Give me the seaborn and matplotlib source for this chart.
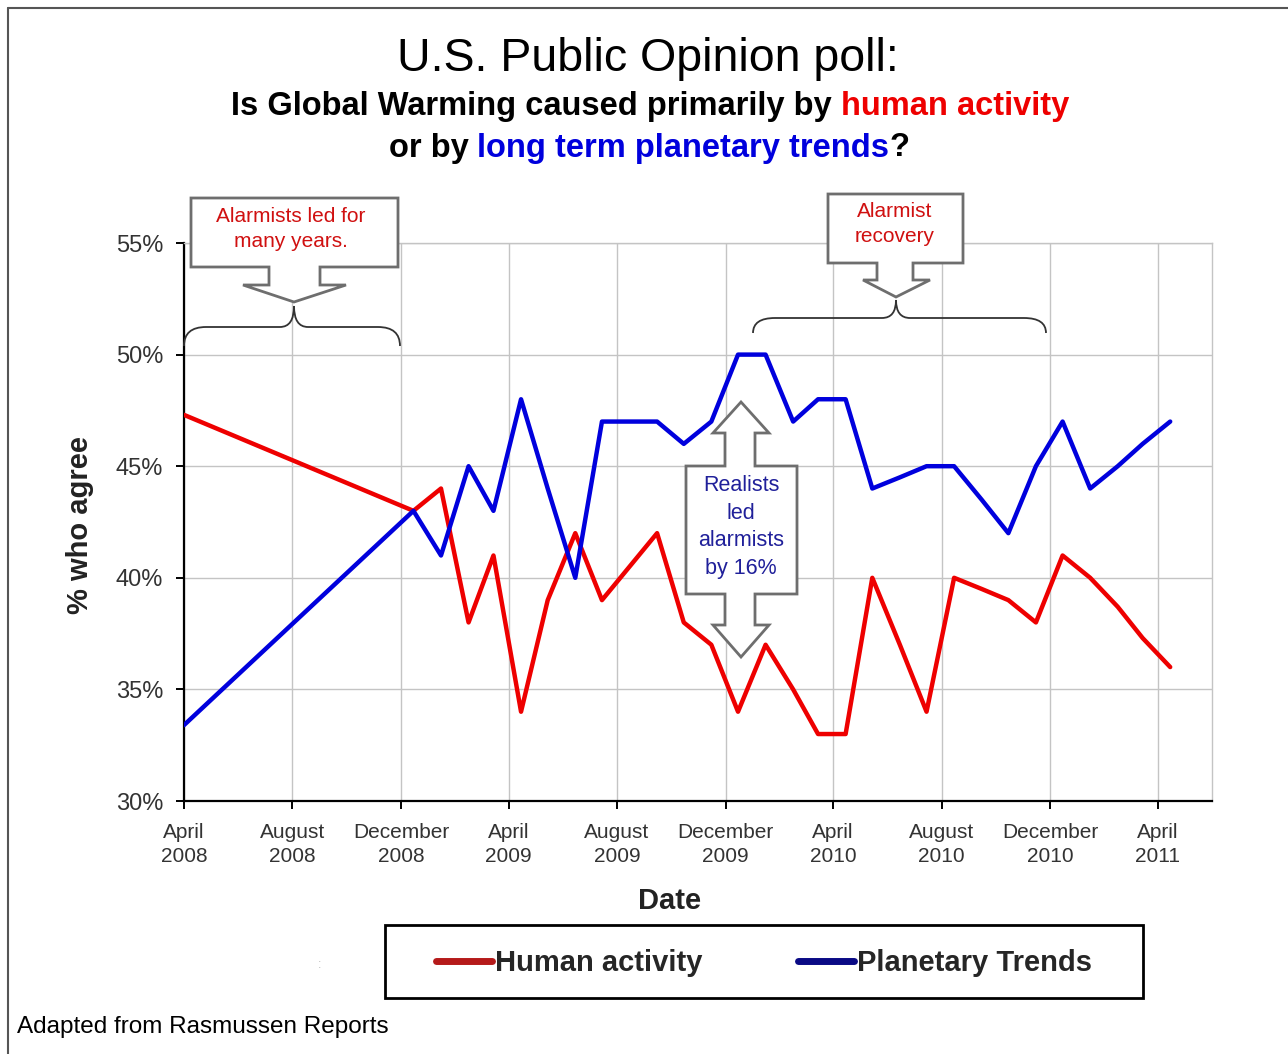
import matplotlib
matplotlib.use("Agg")
import numpy as np
import pandas as pd
import matplotlib.pyplot as plt
import seaborn as sns
from matplotlib.patches import Polygon, PathPatch, Rectangle
from matplotlib.path import Path
from matplotlib.lines import Line2D
from matplotlib.transforms import Affine2D

# ---------------- data ----------------
dates = ["2008-04-01", "2008-12-15",
         "2009-01-15", "2009-02-15", "2009-03-15", "2009-04-15", "2009-05-15", "2009-06-15",
         "2009-07-15", "2009-08-15", "2009-09-15", "2009-10-15", "2009-11-15", "2009-12-15",
         "2010-01-15", "2010-02-15", "2010-03-15", "2010-04-15", "2010-05-15", "2010-06-15",
         "2010-07-15", "2010-08-15", "2010-09-15", "2010-10-15", "2010-11-15", "2010-12-15",
         "2011-01-15", "2011-02-15", "2011-03-15", "2011-04-15"]
human_activity = [47.3, 43, 44, 38, 41, 34, 39, 42, 39, 40.5, 42, 38, 37, 34,
                  37, 35, 33, 33, 40, 37, 34, 40, 39.5, 39, 38, 41, 40, 38.7, 37.3, 36]
planetary_trends = [33.4, 43, 41, 45, 43, 48, 44, 40, 47, 47, 47, 46, 47, 50,
                    50, 47, 48, 48, 44, 44.5, 45, 45, 43.5, 42, 45, 47, 44, 45, 46, 47]
series_names = ["Human activity", "Planetary Trends"]
tick_dates = ["2008-04-01", "2008-08-01", "2008-12-01", "2009-04-01", "2009-08-01",
              "2009-12-01", "2010-04-01", "2010-08-01", "2010-12-01", "2011-04-01"]
tick_labels = ["April\n2008", "August\n2008", "December\n2008", "April\n2009", "August\n2009",
               "December\n2009", "April\n2010", "August\n2010", "December\n2010", "April\n2011"]
y_ticks = [30, 35, 40, 45, 50, 55]
y_tick_labels = ["30%", "35%", "40%", "45%", "50%", "55%"]

RED = "#EE0000"
BLUE = "#0000DD"
LEG_RED = "#B51A1A"
LEG_BLUE = "#0A0A85"

# ---------------- figure ----------------
sns.set_style("white")
plt.rcParams["font.family"] = ["Liberation Sans", "DejaVu Sans"]

W, H = 1288, 1054
fig = plt.figure(figsize=(W / 100, H / 100), dpi=100)
fig.patch.set_facecolor("white")
PX = Affine2D().scale(1 / W, -1 / H).translate(0, 1) + fig.transFigure


def fx(x):
    return x / W


def fy(y):
    return 1 - y / H


ax = fig.add_axes([fx(184), fy(801), (1212 - 184) / W, (801 - 243) / H])

n = len(dates)
df = pd.DataFrame({
    "date": pd.to_datetime(dates * 2),
    "value": human_activity + planetary_trends,
    "series": [series_names[0]] * n + [series_names[1]] * n,
})
sns.lineplot(data=df, x="date", y="value", hue="series",
             palette={series_names[0]: RED, series_names[1]: BLUE},
             linewidth=3.2, legend=False, estimator=None, ax=ax, zorder=3)

ax.set_xlim(pd.Timestamp("2008-04-01"), pd.Timestamp("2011-06-01"))
ax.set_ylim(30, 55)
ax.set_xticks(pd.to_datetime(tick_dates))
ax.set_xticklabels(tick_labels, fontsize=15, color="#333333", linespacing=1.3)
ax.set_yticks(y_ticks)
ax.set_yticklabels(y_tick_labels, fontsize=17, color="#333333")
ax.set_xlabel("")
ax.set_ylabel("")
ax.grid(True, color="#C4C4C4", linewidth=1)
ax.set_axisbelow(True)
for s in ["top", "right"]:
    ax.spines[s].set_color("#C4C4C4")
    ax.spines[s].set_linewidth(1)
for s in ["left", "bottom"]:
    ax.spines[s].set_color("black")
    ax.spines[s].set_linewidth(1.6)
ax.tick_params(axis="x", direction="out", length=6, width=1.4, color="black", pad=10, bottom=True)
ax.tick_params(axis="y", direction="out", length=6, width=1.4, color="black", pad=9, left=True)

# axis titles
fig.text(fx(80), fy(525), "% who agree", rotation=90, fontsize=21, fontweight="bold",
         ha="center", va="center", color="#222222")
fig.text(fx(670), fy(901), "Date", fontsize=21, fontweight="bold", ha="center", va="center",
         color="#222222")

# ---------------- titles ----------------
fig.canvas.draw()
R = fig.canvas.get_renderer()


def multicolor_line(y, pieces, size, weight, cx=650):
    probe1 = fig.text(0, 0, "x x", fontsize=size, fontweight=weight)
    probe2 = fig.text(0, 0, "xx", fontsize=size, fontweight=weight)
    sp = probe1.get_window_extent(R).width - probe2.get_window_extent(R).width
    probe1.remove()
    probe2.remove()
    texts, widths, gaps = [], [], []
    for s, c, g in pieces:
        t = fig.text(0, fy(y), s, color=c, fontsize=size, fontweight=weight,
                     ha="left", va="center", zorder=6)
        texts.append(t)
        widths.append(t.get_window_extent(R).width)
        gaps.append(sp if g else 0)
    total = sum(widths) + sum(gaps)
    x = cx - total / 2
    for t, w, g in zip(texts, widths, gaps):
        x += g
        t.set_x(fx(x))
        x += w


fig.text(fx(648), fy(59), "U.S. Public Opinion poll:", fontsize=33.5, ha="center", va="center",
         color="black")
multicolor_line(106, [("Is Global Warming caused primarily by", "black", 0),
                      ("human activity", "#EE0000", 1)], 23.5, "bold")
multicolor_line(148, [("or by", "black", 0),
                      ("long term planetary trends", "#0000DD", 1),
                      ("?", "black", 0)], 23.5, "bold", cx=649)

# ---------------- callouts ----------------
def add_poly(pts, ec="#6E6E6E", lw=2.0):
    p = Polygon(pts, closed=True, facecolor="white", edgecolor=ec, linewidth=lw,
                transform=PX, zorder=5)
    fig.add_artist(p)


def add_brace(x0, x1, xc, y_base, y_mid, y_tip, r=22, r2=14):
    verts = [(x0, y_base), (x0, y_mid), (x0 + r, y_mid),
             (xc - r2, y_mid),
             (xc, y_mid), (xc, y_tip),
             (xc, y_mid), (xc + r2, y_mid),
             (x1 - r, y_mid),
             (x1, y_mid), (x1, y_base)]
    codes = [Path.MOVETO, Path.CURVE3, Path.CURVE3,
             Path.LINETO,
             Path.CURVE3, Path.CURVE3,
             Path.CURVE3, Path.CURVE3,
             Path.LINETO,
             Path.CURVE3, Path.CURVE3]
    pp = PathPatch(Path(verts, codes), facecolor="none", edgecolor="#333333",
                   linewidth=1.3, transform=PX, zorder=5)
    fig.add_artist(pp)


# "Alarmists led for many years."
add_poly([(191, 198), (398, 198), (398, 267), (320, 267), (320, 285), (346, 285),
          (294, 302), (243, 285), (269, 285), (269, 267), (191, 267)])
add_brace(184, 400, 294, 346, 327, 306)
fig.text(fx(291), fy(229), "Alarmists led for\nmany years.", fontsize=15, color="#D01010",
         ha="center", va="center", linespacing=1.45, zorder=6)

# "Alarmist recovery"
add_poly([(828, 194), (963, 194), (963, 263), (913, 263), (913, 280), (930, 280),
          (896, 297), (863, 280), (877, 280), (877, 263), (828, 263)])
add_brace(753, 1046, 896, 333, 318, 300)
fig.text(fx(895), fy(224), "Alarmist\nrecovery", fontsize=15, color="#D01010",
         ha="center", va="center", linespacing=1.4, zorder=6)

# "Realists led alarmists by 16%"
add_poly([(686, 466), (725, 466), (725, 433), (713, 433), (741, 402), (769, 433),
          (755, 433), (755, 466), (797, 466), (797, 594), (755, 594), (755, 625),
          (769, 625), (741, 657), (713, 625), (725, 625), (725, 594), (686, 594)])
fig.text(fx(741), fy(527), "Realists\nled\nalarmists\nby 16%", fontsize=15.5, color="#20209A",
         ha="center", va="center", linespacing=1.42, zorder=6)

# ---------------- legend ----------------
handles = [Line2D([], [], color=LEG_RED, linewidth=5),
           Line2D([], [], color=LEG_BLUE, linewidth=5)]
fig.legend(handles=handles, labels=series_names, loc="center",
           bbox_to_anchor=(fx(764), fy(963)), ncol=2, frameon=False,
           prop={"weight": "bold", "size": 21}, handlelength=1.9, handletextpad=0.1,
           columnspacing=3.3)
fig.add_artist(Rectangle((385, 925), 758, 73, facecolor="none", edgecolor="black",
                         linewidth=2, transform=PX, zorder=5))
fig.text(fx(320), fy(965), ":", fontsize=9, color="#BBBBBB", ha="center", va="center")

# footer and outer frame
fig.text(fx(17), fy(1027), "Adapted from Rasmussen Reports", fontsize=17.5, color="black",
         ha="left", va="center")
fig.add_artist(Line2D([8, 8], [1054, 8], color="#555555", linewidth=1.5, transform=PX))
fig.add_artist(Line2D([8, 1288], [8, 8], color="#555555", linewidth=1.5, transform=PX))

fig.savefig("out.png", dpi=100, facecolor="white")
